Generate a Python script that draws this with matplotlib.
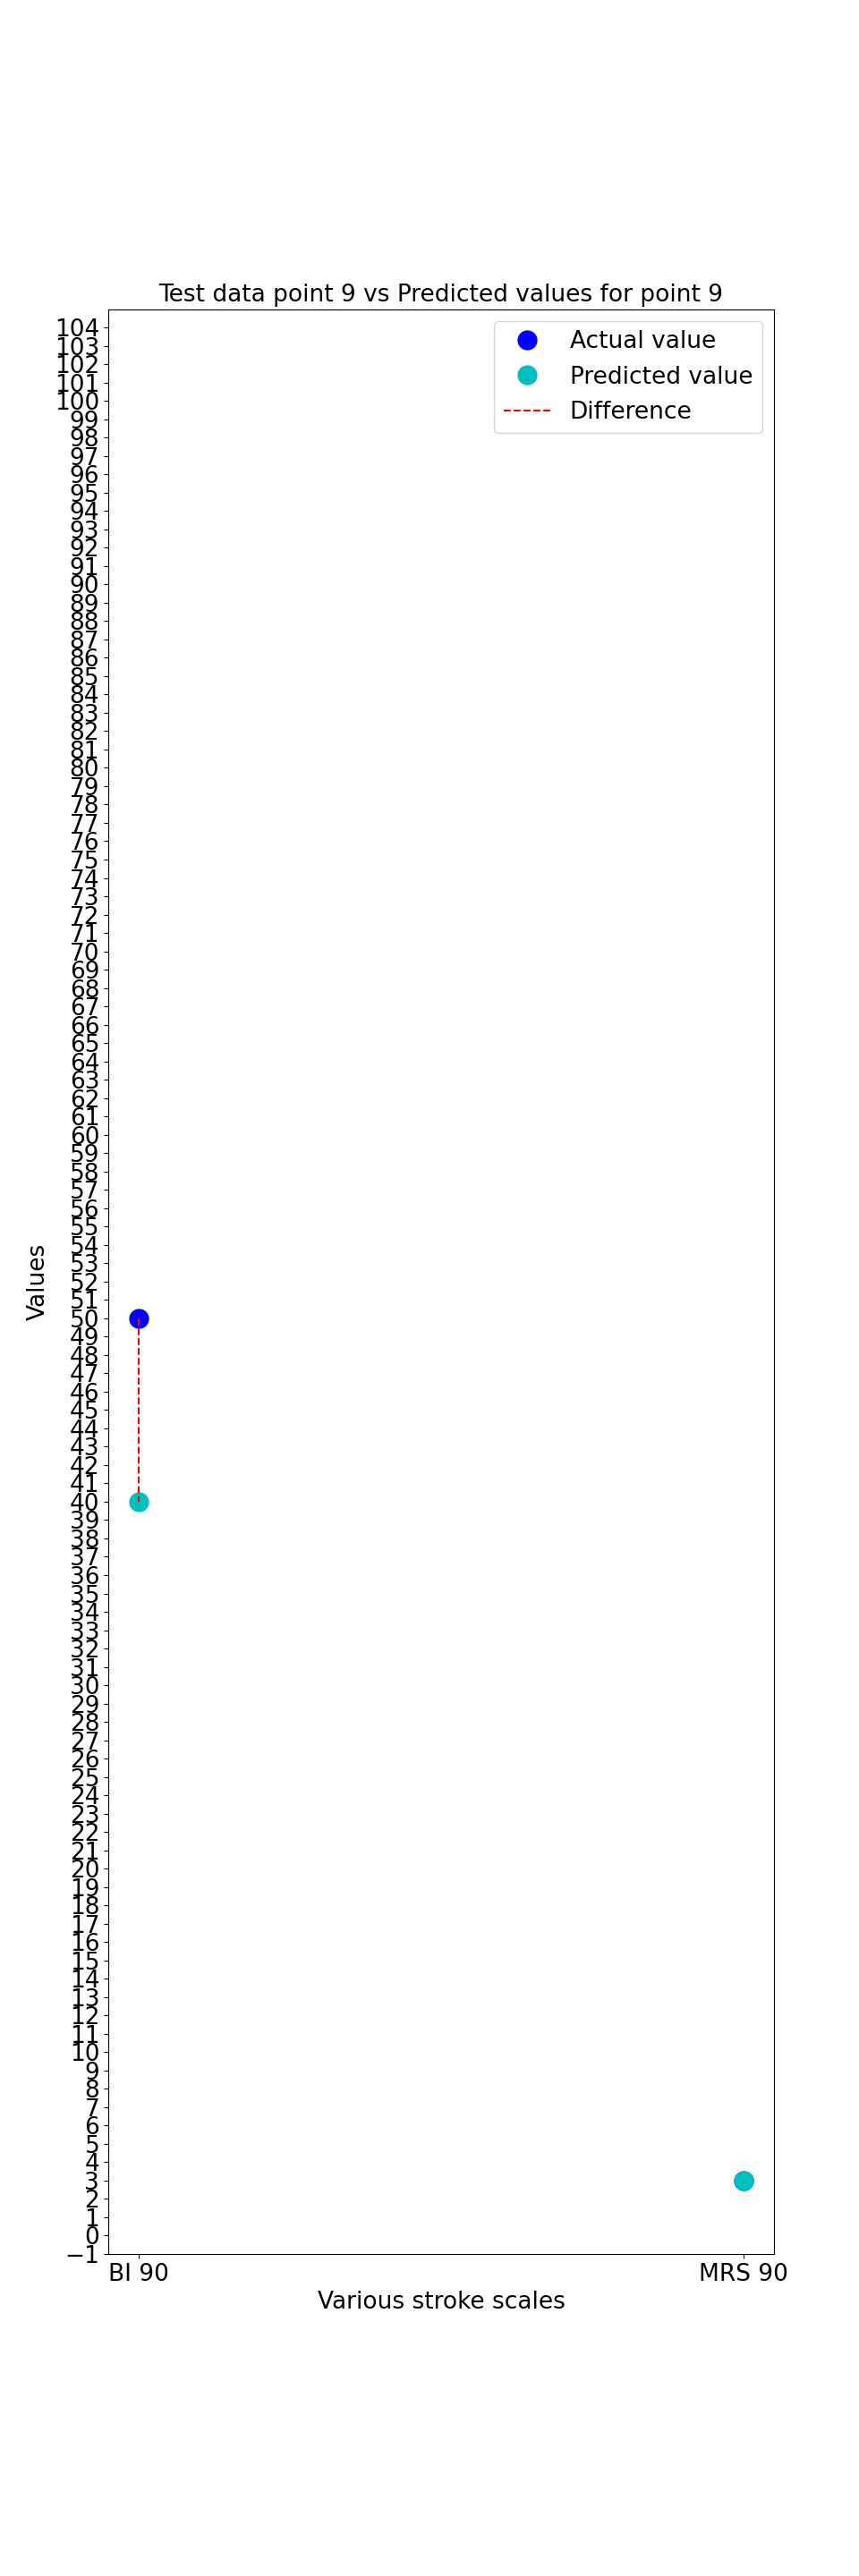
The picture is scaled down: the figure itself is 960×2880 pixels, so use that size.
import matplotlib
matplotlib.use("Agg")
import matplotlib.pyplot as plt
import numpy as np

categories = ["BI 90", "MRS 90"]
actual_values = [50, 3]
predicted_values = [40, 3]
point_index = 9

FS = 19

fig = plt.figure(figsize=(9.6, 28.8), dpi=100)
ax = fig.add_axes([0.126, 0.125, 0.775, 0.755])

x = np.arange(len(categories))
ax.plot(x, actual_values, 'o', color='b', markersize=15, label='Actual value')
ax.plot(x, predicted_values, 'o', color='c', markersize=15, label='Predicted value')
for i in range(len(categories)):
    ax.plot([x[i], x[i]], [actual_values[i], predicted_values[i]], 'r--',
            label='Difference' if i == 0 else None)

ax.set_xticks(x)
ax.set_xticklabels(categories, fontsize=FS)
ax.set_yticks(np.arange(-1, 105, 1))
ax.tick_params(axis='y', labelsize=FS)
ax.set_ylim(-1, 105)
ax.set_xlabel('Various stroke scales', fontsize=FS)
ax.set_ylabel('Values', fontsize=FS)
ax.set_title(f'Test data point {point_index} vs Predicted values for point {point_index}', fontsize=FS)
ax.legend(loc='upper right', fontsize=FS)

fig.savefig('out.png', dpi=100)
